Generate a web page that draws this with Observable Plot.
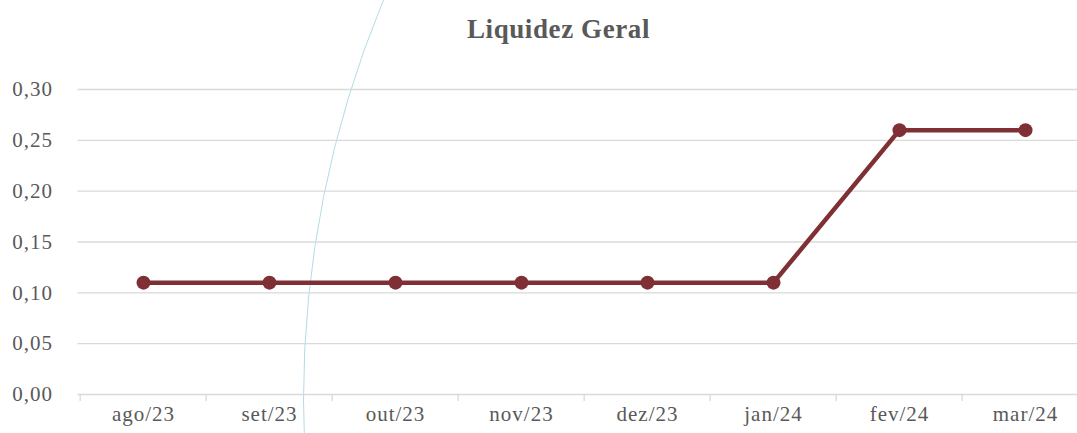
<!DOCTYPE html>
<html>
<head>
<meta charset="utf-8">
<script src="https://cdn.jsdelivr.net/npm/d3@7"></script>
<script src="https://cdn.jsdelivr.net/npm/@observablehq/plot@0.6"></script>
<style>
  html, body { margin: 0; padding: 0; background: #fff; overflow: hidden; }
  #wrap { position: relative; width: 1077px; height: 433px; overflow: hidden; }
  #arc { position: absolute; left: 303px; top: -640px; width: 2080px; height: 2080px;
         border: 1.2px solid #b3dbe8; border-radius: 50%; box-sizing: border-box; pointer-events: none; }
  #title { position: relative; height: 60px; box-sizing: border-box; padding-top: 14px; padding-left: 40px;
           text-align: center; font-family: "Liberation Serif", serif; font-weight: bold;
           font-size: 27px; letter-spacing: 0.6px; line-height: 30px; color: #595959; }
  #chart { position: relative; }
  #chart svg { max-width: none; }
  #chart svg text { font-family: "Liberation Serif", serif !important; letter-spacing: 1px; }
</style>
</head>
<body>
<div id="wrap">
  <div id="arc"></div>
  <div id="title">Liquidez Geral</div>
  <div id="chart"></div>
</div>
<script>
const months = ["ago/23", "set/23", "out/23", "nov/23", "dez/23", "jan/24", "fev/24", "mar/24"];
const values = [0.11, 0.11, 0.11, 0.11, 0.11, 0.11, 0.26, 0.26];
const yTicks = [0, 0.05, 0.10, 0.15, 0.20, 0.25, 0.30];

const data = months.map((m, i) => ({month: m, value: values[i]}));
const lineColor = "#7f3035";
const gridColor = "#d9d9d9";
const textColor = "#595959";
const font = {fontFamily: "Liberation Serif", fontSize: 21};
const xRange = [77.5, 1090.5];
const step = (xRange[1] - xRange[0]) / months.length;

const chart = Plot.plot({
  width: 1077,
  height: 373,
  marginLeft: 77.5,
  marginRight: 0,
  marginTop: 29,
  marginBottom: 39,
  style: {fontFamily: "Liberation Serif, serif", fontSize: "21px", color: textColor, background: "transparent", overflow: "hidden"},
  x: {type: "point", domain: months, padding: 0.5, range: xRange, label: null},
  y: {domain: [0, 0.3], label: null},
  marks: [
    Plot.ruleY(yTicks, {stroke: gridColor, strokeWidth: 1.3}),
    Plot.axisX({ticks: months, tickSize: 7, tickFormat: () => "", label: null, dx: -step / 2, stroke: gridColor, strokeWidth: 1.3}),
    Plot.axisX({ticks: months, tickSize: 0, tickPadding: 12, label: null, fill: textColor, ...font}),
    Plot.axisY({ticks: yTicks, tickSize: 0, tickPadding: 25, label: null, fill: textColor, ...font,
                tickFormat: d => d.toFixed(2).replace(".", ",")}),
    Plot.line(data, {x: "month", y: "value", stroke: lineColor, strokeWidth: 4.5}),
    Plot.dot(data, {x: "month", y: "value", r: 7, fill: lineColor, stroke: "none"})
  ]
});
document.getElementById("chart").appendChild(chart);
</script>
</body>
</html>
